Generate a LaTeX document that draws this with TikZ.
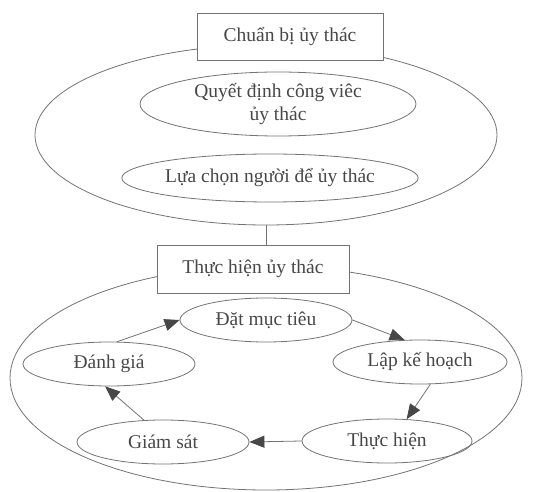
\documentclass[tikz,border=0pt]{standalone}
\usepackage{fontspec}
\setmainfont{Liberation Serif}
\usetikzlibrary{shapes.geometric,arrows.meta}
\begin{document}
\begin{tikzpicture}[x=1pt,y=-1pt,
  every node/.style={font=\fontsize{19.5}{23}\selectfont, text=black!72},
  bigell/.style={ellipse, draw=black!55, line width=0.8pt, inner sep=0pt},
  ell/.style={ellipse, draw=black!55, line width=0.8pt, inner sep=0pt, align=center},
  sbox/.style={rectangle, draw=black!55, line width=0.8pt, fill=white, inner sep=0pt},
  link/.style={draw=black!55, line width=0.8pt},
  arr/.style={draw=black!55, line width=0.8pt, -{Triangle[length=15pt,width=12pt,color=black!72,fill=black!72]}}
]
\useasboundingbox (0,0) rectangle (555,492);
% upper group
\node[bigell, minimum width=462, minimum height=180] (E1) at (266,135) {};
\node[sbox, minimum width=186, minimum height=47] (B1) at (290,36.5) {Chuẩn bị ủy thác};
\node[ell, minimum width=276, minimum height=64] (Q) at (278,104) {Quyết định công viêc\\ủy thác};
\node[ell, minimum width=256, minimum height=48] (L) at (270,178) {Lựa chọn người để ủy thác};
% lower group
\node[bigell, minimum width=512, minimum height=224] (E2) at (266,378) {};
\node[sbox, minimum width=192, minimum height=48] (B2) at (253,269) {Thực hiện ủy thác};
\draw[link] (E1.south) -- (E1.south |- B2.north);
\node[ell, minimum width=172, minimum height=44] (DM) at (266,320) {Đặt mục tiêu};
\node[ell, minimum width=174, minimum height=44] (LK) at (420,362) {Lập kế hoạch};
\node[ell, minimum width=170, minimum height=44] (TH) at (387,441) {Thực hiện};
\node[ell, minimum width=172, minimum height=44] (GS) at (163,442) {Giám sát};
\node[ell, minimum width=172, minimum height=44] (DG) at (109,364) {Đánh giá};
\draw[arr] (DG.70) -- (DM.west);
\draw[arr] (DM.east) -- (LK.125);
\draw[arr] (LK.-65) -- (TH.48);
\draw[arr] (TH.west) -- (GS.east);
\draw[arr] (GS.131) -- (DG.-100);
\end{tikzpicture}
\end{document}
